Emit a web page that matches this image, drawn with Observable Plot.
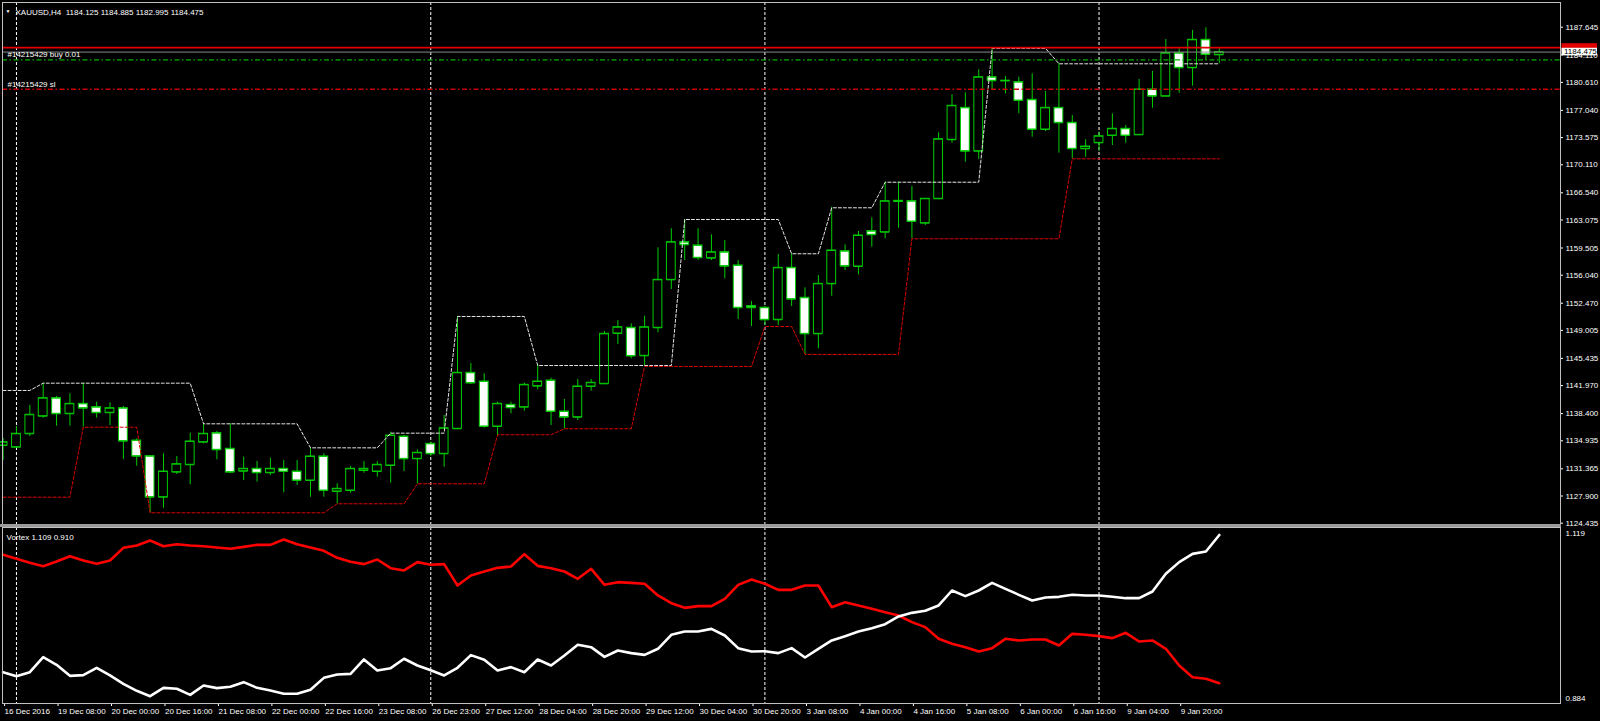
<!DOCTYPE html>
<html><head><meta charset="utf-8">
<script src="https://cdn.jsdelivr.net/npm/d3@7"></script>
<script src="https://cdn.jsdelivr.net/npm/@observablehq/plot@0.6"></script>
<style>
html,body{margin:0;padding:0;background:#000;width:1600px;height:721px;overflow:hidden}
#main{position:absolute;left:0;top:0}
#sub{position:absolute;left:0;top:525px}
#sep{position:absolute;left:0;top:524px;width:1561px;height:3px;background:#9a9a9a}
</style></head><body>
<div id="main"></div><div id="sep"></div><div id="sub"></div>
<script>
// ---- data ----
const symbolTitle = "XAUUSD,H4  1184.125 1184.885 1182.995 1184.475";
const opens = [1134.34,1134.12,1135.83,1138.07,1140.37,1138.38,1139.65,1139.22,1138.51,1139.09,
1134.97,1132.97,1127.75,1130.94,1131.88,1134.76,1135.91,1133.92,1131.06,1131.37,
1130.86,1131.37,1131.02,1129.88,1132.94,1128.48,1128.60,1131.15,1131.02,1131.79,
1135.48,1132.64,1134.55,1133.28,1136.47,1143.60,1142.49,1136.76,1139.52,1139.22,
1141.90,1142.62,1138.67,1137.94,1141.86,1142.20,1148.61,1149.34,1145.77,1149.34,
1155.45,1160.25,1159.83,1158.21,1158.97,1157.28,1152.09,1151.89,1150.36,1156.98,
1153.16,1148.57,1154.94,1159.10,1157.15,1161.65,1161.52,1165.43,1165.47,1162.67,
1165.78,1173.30,1177.37,1171.84,1181.27,1180.80,1180.64,1178.39,1174.61,1177.37,
1175.46,1172.15,1172.91,1173.84,1174.70,1173.93,1179.71,1178.85,1184.33,1182.47,
1186.04,1184.125];
const highs = [1135.23,1136.76,1139.44,1142.28,1140.58,1140.93,1142.28,1139.86,1139.78,1139.31,
1135.19,1132.97,1133.28,1132.94,1135.91,1137.10,1136.12,1137.10,1132.85,1132.30,
1132.72,1132.43,1132.43,1134.04,1133.28,1129.46,1131.66,1132.30,1132.30,1136.03,
1135.61,1133.79,1134.76,1138.16,1150.78,1144.79,1143.48,1139.86,1139.86,1142.28,
1144.62,1142.91,1140.21,1142.75,1142.75,1148.87,1150.27,1149.85,1150.82,1159.53,
1161.95,1163.14,1161.95,1161.19,1160.46,1157.91,1152.69,1152.05,1158.68,1158.77,
1154.43,1156.00,1164.71,1159.91,1161.61,1163.36,1167.89,1167.89,1167.34,1165.78,
1174.19,1179.03,1179.29,1182.22,1184.89,1181.36,1181.27,1181.71,1179.45,1183.06,
1176.39,1173.30,1174.26,1176.61,1175.12,1180.98,1182.00,1186.08,1184.89,1187.23,
1187.57,1184.885];
const lows = [1132.43,1134.04,1135.48,1137.82,1136.80,1136.80,1136.67,1137.82,1136.89,1132.55,
1131.70,1125.76,1126.35,1130.64,1129.33,1134.55,1132.52,1130.73,1129.88,1129.66,
1130.51,1128.31,1129.24,1127.75,1127.75,1126.91,1128.26,1130.81,1130.30,1129.53,
1131.02,1129.46,1132.97,1131.57,1136.34,1142.11,1136.54,1135.61,1138.38,1138.71,
1141.44,1136.89,1136.47,1137.52,1141.26,1142.20,1147.21,1145.39,1144.50,1148.70,
1154.22,1157.91,1157.91,1157.91,1155.58,1150.40,1149.50,1149.63,1149.63,1152.05,
1145.94,1146.66,1153.36,1156.64,1156.09,1159.61,1160.68,1162.03,1160.68,1162.37,
1165.78,1172.86,1170.44,1170.79,1179.58,1179.16,1176.61,1173.63,1174.35,1171.59,
1170.87,1171.08,1171.84,1172.57,1172.86,1173.93,1177.32,1178.85,1179.23,1180.13,
1183.40,1182.995];
const closes = [1134.76,1135.83,1138.25,1140.37,1138.38,1139.65,1139.09,1138.51,1139.09,1134.89,
1132.97,1127.75,1131.02,1131.96,1134.85,1135.83,1133.79,1130.94,1131.37,1130.86,
1131.37,1131.02,1129.88,1132.94,1128.60,1128.82,1131.37,1131.37,1131.88,1135.61,
1132.64,1133.41,1133.28,1136.54,1143.60,1142.30,1136.76,1139.65,1139.14,1142.07,
1142.49,1138.67,1137.94,1141.86,1142.33,1148.57,1149.41,1145.74,1149.41,1155.45,
1160.25,1159.91,1158.26,1158.97,1157.19,1151.89,1151.89,1150.36,1156.98,1152.98,
1148.57,1154.94,1159.19,1157.19,1161.10,1161.19,1165.47,1165.52,1162.88,1165.78,
1173.37,1177.63,1171.84,1181.27,1180.82,1180.83,1178.30,1174.61,1177.37,1175.46,
1172.15,1172.44,1173.75,1174.70,1173.84,1179.71,1178.85,1184.33,1182.47,1186.04,
1184.17,1184.475];
const upperBand = [1141.35,1141.35,1141.35,
1142.28,1142.28,1142.28,1142.28,1142.28,1142.28,1142.28,1142.28,1142.28,1142.28,1142.28,1142.28,
1137.10,1137.10,1137.10,1137.10,1137.10,1137.10,1137.10,1137.10,
1134.04,1134.04,1134.04,1134.04,1134.04,1134.04,
1135.91,1135.91,1135.91,1135.91,1135.91,
1150.78,1150.78,1150.78,1150.78,1150.78,1150.78,
1144.53,1144.53,1144.53,1144.53,1144.53,1144.53,1144.53,1144.53,1144.53,1144.53,1144.53,
1163.14,1163.14,1163.14,1163.14,1163.14,1163.14,1163.14,1163.14,
1158.77,1158.77,1158.77,
1164.63,1164.63,1164.63,1164.63,
1167.89,1167.89,1167.89,1167.89,1167.89,1167.89,1167.89,1167.89,
1184.95,1184.95,1184.95,1184.95,1184.95,
1182.98,1182.98,1182.98,1182.98,1182.98,1182.98,1182.98,1182.98,1182.98,1182.98,1182.98,1182.98,1182.98];
const lowerBand = [1127.75,1127.75,1127.75,1127.75,1127.75,1127.75,
1136.67,1136.67,1136.67,1136.67,1136.67,
1125.76,1125.76,1125.76,1125.76,1125.76,1125.76,1125.76,1125.76,1125.76,1125.76,1125.76,1125.76,1125.76,1125.76,
1126.91,1126.91,1126.91,1126.91,1126.91,1126.91,
1129.46,1129.46,1129.46,1129.46,1129.46,1129.46,
1135.70,1135.70,1135.70,1135.70,1135.70,
1136.47,1136.47,1136.47,1136.47,1136.47,1136.47,
1144.41,1144.41,1144.41,1144.41,1144.41,1144.41,1144.41,1144.41,1144.41,
1149.50,1149.50,1149.50,
1145.94,1145.94,1145.94,1145.94,1145.94,1145.94,1145.94,1145.94,
1160.68,1160.68,1160.68,1160.68,1160.68,1160.68,1160.68,1160.68,1160.68,1160.68,1160.68,1160.68,
1170.87,1170.87,1170.87,1170.87,1170.87,1170.87,1170.87,1170.87,1170.87,1170.87,1170.87,1170.87];
const vortexPlus = [0.9247,0.9194,0.9247,0.9449,0.9346,0.9198,0.9207,0.9306,0.9203,0.9091,
0.8997,0.8925,0.9037,0.9024,0.8943,0.9068,0.9033,0.9051,0.9113,0.9037,
0.9001,0.8957,0.8957,0.9010,0.9171,0.9216,0.9225,0.9418,0.9270,0.9301,
0.9427,0.9337,0.9274,0.9203,0.9306,0.9476,0.9413,0.9270,0.9315,0.9247,
0.9418,0.9337,0.9471,0.9615,0.9583,0.9453,0.9538,0.9503,0.9480,0.9561,
0.9749,0.9793,0.9793,0.9829,0.9740,0.9570,0.9525,0.9529,0.9503,0.9570,
0.9444,0.9561,0.9673,0.9731,0.9793,0.9838,0.9892,0.9995,1.0044,1.0071,
1.0143,1.0344,1.0268,1.0344,1.0447,1.0366,1.0286,1.0210,1.0250,1.0259,
1.0286,1.0277,1.0277,1.0259,1.0241,1.0241,1.0331,1.0568,1.0725,1.0836,
1.0868,1.109];
const vortexMinus = [1.0823,1.0769,1.0716,1.0671,1.0734,1.0805,1.0747,1.0702,1.0747,1.0917,
1.0948,1.1016,1.0939,1.0966,1.0948,1.0939,1.0922,1.0904,1.0930,1.0957,
1.0957,1.1029,1.0966,1.0922,1.0877,1.0783,1.0729,1.0698,1.0760,1.0644,
1.0613,1.0725,1.0689,1.0698,1.0411,1.0546,1.0599,1.0648,1.0666,1.0832,
1.0675,1.0644,1.0599,1.0501,1.0635,1.0420,1.0456,1.0447,1.0434,1.0277,
1.0174,1.0111,1.0134,1.0134,1.0232,1.0420,1.0492,1.0434,1.0353,1.0353,
1.0411,1.0411,1.0120,1.0187,1.0143,1.0098,1.0053,1.0008,0.9919,0.9852,
0.9695,0.9628,0.9583,0.9525,0.9570,0.9695,0.9673,0.9686,0.9686,0.9606,
0.9762,0.9749,0.9731,0.9704,0.9776,0.9659,0.9673,0.9561,0.9337,0.9180,
0.9158,0.910];
const priceTicks = ["1187.645","1184.110","1180.610","1177.040","1173.575","1170.110","1166.540","1163.075","1159.505","1156.040","1152.470","1149.005","1145.435","1141.970","1138.400","1134.935","1131.365","1127.900","1124.435"];
const timeLabels = ["16 Dec 2016","19 Dec 08:00","20 Dec 00:00","20 Dec 16:00","21 Dec 08:00","22 Dec 00:00","22 Dec 16:00","23 Dec 08:00","26 Dec 23:00","27 Dec 12:00","28 Dec 04:00","28 Dec 20:00","29 Dec 12:00","30 Dec 04:00","30 Dec 20:00","3 Jan 08:00","4 Jan 00:00","4 Jan 16:00","5 Jan 08:00","6 Jan 00:00","6 Jan 16:00","9 Jan 04:00","9 Jan 20:00"];
const timeTickBars = [0,4,8,12,16,20,24,28,32,36,40,44,48,52,56,60,64,68,72,76,80,84,88];
const weekSeparators = [1,32,57,82];
const bidPrice = 1184.475, askPrice = 1185.035;
const orderLabels = ["#14215429 buy 0.01", "#14215429 sl"];
const orderPrices = [1183.49, 1179.74];
const vortexLegend = "Vortex 1.109 0.910";
const vortexScaleLabels = ["1.119", "0.884"];

// ---- build ----
const green = "#00cc00";
const candles = opens.map((o, i) => ({i, o, h: highs[i], l: lows[i], c: closes[i], up: upperBand[i], lo: lowerBand[i]}));
const half = 0.33;
const font = "'Liberation Sans', Arial, sans-serif";
const xScale = {type: "linear", domain: [0, 91], range: [2.6, 1218.8]};
const timeMap = new Map(timeTickBars.map((b, k) => [b, timeLabels[k]]));

const main = Plot.plot({
  width: 1600, height: 526,
  marginLeft: 2, marginRight: 40, marginTop: 2, marginBottom: 1,
  style: {background: "transparent", color: "#ffffff", fontFamily: font, fontSize: "8px", overflow: "visible"},
  x: {...xScale, axis: null},
  y: {domain: [1124.435, 1187.645], range: [522.7, 26.7]},
  color: {type: "identity"},
  marks: [
    Plot.ruleX(weekSeparators, {x: d => d, stroke: "#ffffff", strokeDasharray: "3,2"}),
    Plot.ruleX(candles, {x: "i", y1: "l", y2: "h", stroke: green}),
    Plot.rect(candles, {x1: d => d.i - half, x2: d => d.i + half, y1: "o", y2: "c",
      fill: d => d.c >= d.o ? "#000000" : "#ffffff", stroke: green, strokeWidth: 1}),
    Plot.ruleY(candles, {x1: d => d.i - half, x2: d => d.i + half, y: "o", stroke: green}),
    Plot.ruleY(candles, {x1: d => d.i - half, x2: d => d.i + half, y: "c", stroke: green}),
    Plot.line(candles, {x: "i", y: "up", stroke: "#e6e6e6", strokeDasharray: "3,2", strokeWidth: 1}),
    Plot.line(candles, {x: "i", y: "lo", stroke: "#dd0000", strokeDasharray: "3,2", strokeWidth: 1}),
    Plot.ruleY([bidPrice], {stroke: "#8a8a8a"}),
    Plot.ruleY([askPrice], {stroke: "#e00000", strokeWidth: 1.8}),
    Plot.ruleY([orderPrices[0]], {stroke: "#00b000", strokeWidth: 1.2, strokeDasharray: "5,2.5,1.5,2.5"}),
    Plot.ruleY([orderPrices[1]], {stroke: "#cc0000", strokeWidth: 1.7, strokeDasharray: "5,2.5,1.5,2.5"}),
    Plot.text(orderLabels.map((t, k) => ({t, p: orderPrices[k]})), {y: "p", text: "t", frameAnchor: "left", dx: 5, dy: -5, textAnchor: "start", fill: "#ffffff"}),
    Plot.text([symbolTitle], {text: d => d, frameAnchor: "top-left", dx: 13, dy: 7, textAnchor: "start", fill: "#ffffff"}),
    Plot.text(["\u25BC"], {text: d => d, frameAnchor: "top-left", dx: 3, dy: 7, textAnchor: "start", fill: "#ffffff", fontSize: 5}),
    Plot.axisY(priceTicks.map(Number), {anchor: "right", tickSize: 2, tickPadding: 3, tickFormat: d => d3.format(".3f")(d), label: null}),
    Plot.frame({stroke: "#c0c0c0"})
  ]
});
document.getElementById("main").appendChild(main);

// price tags on the right axis, placed through the y scale
{
  const ys = main.scale("y");
  const svg = d3.select(main);
  const yAsk = ys.apply(askPrice);
  svg.append("rect").attr("x", 1561.5).attr("y", yAsk - 4).attr("width", 35.5).attr("height", 8).attr("fill", "#e00000");
  const yBid = ys.apply(bidPrice);
  svg.append("rect").attr("x", 1561.5).attr("y", yBid - 3.8).attr("width", 35.5).attr("height", 7.6).attr("fill", "#ffffff");
  svg.append("text").attr("x", 1564).attr("y", yBid).attr("dy", "0.32em").attr("fill", "#000000")
    .attr("text-anchor", "start").style("font", "8px " + font).text(d3.format(".3f")(bidPrice));
}

const sub = Plot.plot({
  width: 1600, height: 196,
  marginLeft: 2, marginRight: 40, marginTop: 2, marginBottom: 18,
  style: {background: "transparent", color: "#ffffff", fontFamily: font, fontSize: "8px", overflow: "visible"},
  x: {...xScale},
  y: {domain: [0.884, 1.119], range: [177, 2], axis: null},
  marks: [
    Plot.ruleX(weekSeparators, {x: d => d, stroke: "#ffffff", strokeDasharray: "3,2"}),
    Plot.line(candles.map((d, i) => ({i, v: vortexMinus[i]})), {x: "i", y: "v", stroke: "#ff0000", strokeWidth: 2.6}),
    Plot.line(candles.map((d, i) => ({i, v: vortexPlus[i]})), {x: "i", y: "v", stroke: "#ffffff", strokeWidth: 2.6}),
    Plot.text([vortexLegend], {text: d => d, frameAnchor: "top-left", dx: 4, dy: 7, textAnchor: "start", fill: "#ffffff"}),
    Plot.text([{t: vortexScaleLabels[0], v: 1.119}], {y: "v", text: "t", frameAnchor: "right", dx: 5, dy: 6, textAnchor: "start", fill: "#ffffff"}),
    Plot.text([{t: vortexScaleLabels[1], v: 0.884}], {y: "v", text: "t", frameAnchor: "right", dx: 5, dy: -4, textAnchor: "start", fill: "#ffffff"}),
    Plot.axisX(timeTickBars, {anchor: "bottom", tickSize: 3, tickPadding: 2, tickFormat: d => timeMap.get(d), textAnchor: "start", dx: 1.5, label: null}),
    Plot.frame({stroke: "#c0c0c0"})
  ]
});
document.getElementById("sub").appendChild(sub);
</script>
</body></html>
